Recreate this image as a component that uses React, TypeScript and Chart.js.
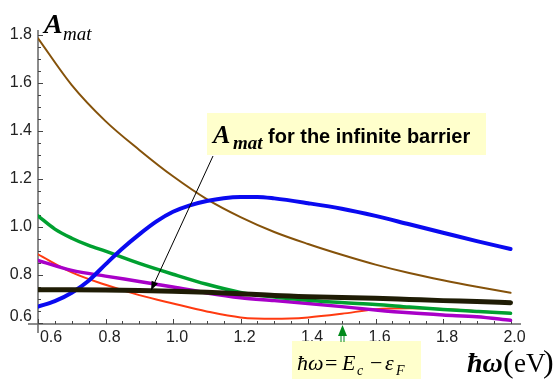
import React, { useEffect, useRef } from 'react';
import { Chart, registerables } from 'chart.js';
Chart.register(...registerables);

// photon energy (eV)
const xMain = [0.6, 0.7, 0.8, 0.9, 1.0, 1.1, 1.2, 1.3, 1.4, 1.5, 1.6, 1.7, 1.8, 1.9, 2.0];
const xBlue = [0.6, 0.65, 0.7, 0.75, 0.8, 0.85, 0.9, 0.95, 1.0, 1.05, 1.1, 1.15, 1.2, 1.25, 1.3, 1.4, 1.5, 1.6, 1.7, 1.8, 1.9, 2.0];
const xGreen = [0.6, 0.65, 0.7, 0.75, 0.8, 0.9, 1.0, 1.1, 1.2, 1.3, 1.4, 1.5, 1.6, 1.7, 1.8, 1.9, 2.0];

const brownSeries = [1.785, 1.59, 1.44, 1.32, 1.21, 1.115, 1.04, 0.978, 0.928, 0.883, 0.842, 0.807, 0.777, 0.75, 0.725];
const blueSeries = [0.667, 0.69, 0.725, 0.775, 0.843, 0.909, 0.968, 1.021, 1.062, 1.089, 1.107, 1.119, 1.124, 1.124, 1.118, 1.098, 1.075, 1.045, 1.01, 0.975, 0.94, 0.907];
const greenSeries = [1.045, 0.99, 0.952, 0.922, 0.898, 0.847, 0.802, 0.76, 0.726, 0.707, 0.694, 0.684, 0.676, 0.665, 0.655, 0.647, 0.639];
const magentaSeries = [0.86, 0.818, 0.794, 0.772, 0.749, 0.724, 0.704, 0.692, 0.68, 0.667, 0.653, 0.641, 0.632, 0.625, 0.61];
const redSeries = [0.885, 0.81, 0.758, 0.715, 0.68, 0.647, 0.622, 0.616, 0.622, 0.637, 0.656, 0.66, 0.657, 0.648, 0.64];
const blackSeries = [0.737, 0.737, 0.736, 0.734, 0.731, 0.727, 0.721, 0.713, 0.708, 0.705, 0.702, 0.697, 0.692, 0.688, 0.683];

const xTickLabels = ['0.6', '0.8', '1.0', '1.2', '1.4', '1.6', '1.8', '2.0'];
const yTickLabels = ['0.6', '0.8', '1.0', '1.2', '1.4', '1.6', '1.8'];

const toPts = (xs: number[], ys: number[]) => xs.map((x, i) => ({ x, y: ys[i] }));

const axesPlugin = {
  id: 'mmaAxes',
  beforeDatasetsDraw(chart: any) {
    const ctx = chart.ctx;
    const xs = chart.scales.x;
    const ys = chart.scales.y;
    const x0 = xs.getPixelForValue(0.6);
    const y0 = ys.getPixelForValue(ys.min);
    ctx.save();
    ctx.strokeStyle = '#666';
    ctx.lineWidth = 1.5;
    ctx.beginPath();
    ctx.moveTo(x0 - 10, y0);
    ctx.lineTo(xs.right, y0);
    ctx.moveTo(x0, ys.top);
    ctx.lineTo(x0, y0 + 9);
    ctx.stroke();
    ctx.lineWidth = 1;
    ctx.strokeStyle = '#444';
    // x ticks
    for (let k = 0; k <= 28; k++) {
      const v = 0.6 + k * 0.05;
      if (v > 2.001) break;
      const px = Math.round(xs.getPixelForValue(v)) + 0.5;
      const len = k % 4 === 0 ? 5 : 3;
      ctx.beginPath();
      ctx.moveTo(px, y0);
      ctx.lineTo(px, y0 - len);
      ctx.stroke();
    }
    // y ticks
    for (let k = 0; k <= 24; k++) {
      const v = 0.6 + k * 0.05;
      if (v > 1.801) break;
      const py = Math.round(ys.getPixelForValue(v)) + 0.5;
      const len = k % 4 === 0 ? 5 : 3;
      ctx.beginPath();
      ctx.moveTo(x0, py);
      ctx.lineTo(x0 + len, py);
      ctx.stroke();
    }
    // tick labels
    ctx.fillStyle = '#222';
    ctx.font = '16px "Liberation Sans", Arial, sans-serif';
    ctx.textAlign = 'center';
    ctx.textBaseline = 'middle';
    xTickLabels.forEach((t, i) => {
      const px = xs.getPixelForValue(parseFloat(t));
      ctx.fillText(t, px + (i === 0 ? 13 : 4), y0 + 14);
    });
    ctx.textAlign = 'right';
    yTickLabels.forEach((t, i) => {
      const py = ys.getPixelForValue(parseFloat(t));
      ctx.fillText(t, 32, py - (i === 0 ? 6 : 0));
    });
    ctx.restore();
  },
  afterDraw(chart: any) {
    const ctx = chart.ctx;
    const xs = chart.scales.x;
    const ys = chart.scales.y;
    ctx.save();
    ctx.fillStyle = '#000';
    ctx.textAlign = 'left';
    ctx.textBaseline = 'alphabetic';
    // y axis title A_mat
    ctx.font = 'bold italic 28px "Liberation Serif", "Times New Roman", serif';
    ctx.fillText('A', 44, 33);
    ctx.font = 'italic 19px "Liberation Serif", "Times New Roman", serif';
    ctx.fillText('mat', 63, 40);

    // yellow callout box
    ctx.fillStyle = '#ffffcc';
    ctx.fillRect(207, 113, 279, 42);
    ctx.fillStyle = '#000';
    ctx.font = 'bold italic 26px "Liberation Serif", "Times New Roman", serif';
    ctx.fillText('A', 213, 143);
    ctx.font = 'bold italic 19px "Liberation Serif", "Times New Roman", serif';
    ctx.fillText('mat', 233, 149);
    ctx.font = 'bold 20px "Liberation Sans", Arial, sans-serif';
    ctx.fillText('for the infinite barrier', 268, 143);

    // arrow to the infinite-barrier curve
    const tx = xs.getPixelForValue(0.935);
    const ty = ys.getPixelForValue(0.735);
    const sx = 213, sy = 156;
    ctx.strokeStyle = '#000';
    ctx.lineWidth = 1;
    ctx.beginPath();
    ctx.moveTo(sx, sy);
    ctx.lineTo(tx, ty);
    ctx.stroke();
    const ang = Math.atan2(ty - sy, tx - sx);
    const hl = 9, hw = 3.5;
    ctx.beginPath();
    ctx.moveTo(tx, ty);
    ctx.lineTo(tx - hl * Math.cos(ang) + hw * Math.sin(ang), ty - hl * Math.sin(ang) - hw * Math.cos(ang));
    ctx.lineTo(tx - hl * Math.cos(ang) - hw * Math.sin(ang), ty - hl * Math.sin(ang) + hw * Math.cos(ang));
    ctx.closePath();
    ctx.fillStyle = '#000';
    ctx.fill();

    // bottom formula box
    ctx.fillStyle = '#ffffcc';
    ctx.fillRect(292, 341, 129, 38);
    ctx.fillStyle = '#000';
    const serif = '"Liberation Serif", "Times New Roman", serif';
    const bl = 370;
    ctx.font = 'italic 22px ' + serif;
    ctx.fillText('\u0127\u03c9', 297, bl);
    ctx.font = '22px ' + serif;
    ctx.fillText('=', 325, bl);
    ctx.font = 'italic 22px ' + serif;
    ctx.fillText('E', 342, bl);
    ctx.font = 'italic 14px ' + serif;
    ctx.fillText('c', 357, bl + 5);
    ctx.font = '22px ' + serif;
    ctx.fillText('\u2212', 370, bl);
    ctx.font = 'italic 22px ' + serif;
    ctx.fillText('\u03b5', 385, bl);
    ctx.font = 'italic 14px ' + serif;
    ctx.fillText('F', 396, bl + 5);

    // green double arrow at hw = Ec - eF
    const gx = Math.round(xs.getPixelForValue(1.5)) + 0.5;
    const gy = ys.getPixelForValue(ys.min) + 1;
    ctx.strokeStyle = '#008a1a';
    ctx.fillStyle = '#008a1a';
    ctx.lineWidth = 1;
    ctx.beginPath();
    ctx.moveTo(gx - 1.5, gy + 9);
    ctx.lineTo(gx - 1.5, 342);
    ctx.moveTo(gx + 1.5, gy + 9);
    ctx.lineTo(gx + 1.5, 342);
    ctx.stroke();
    ctx.beginPath();
    ctx.moveTo(gx, gy);
    ctx.lineTo(gx - 4.5, gy + 11);
    ctx.lineTo(gx + 4.5, gy + 11);
    ctx.closePath();
    ctx.fill();

    // x axis title
    ctx.fillStyle = '#000';
    ctx.font = 'bold italic 28px ' + serif;
    ctx.fillText('\u0127\u03c9', 467, 372);
    ctx.font = '32px ' + serif;
    ctx.fillText('(', 503, 372);
    ctx.font = '27px ' + serif;
    ctx.fillText('eV', 514, 372);
    ctx.font = '32px ' + serif;
    ctx.fillText(')', 543, 372);
    ctx.restore();
  },
};

export default function App() {
  const ref = useRef<HTMLCanvasElement | null>(null);
  useEffect(() => {
    if (!ref.current) return;
    const common = { pointRadius: 0, fill: false, cubicInterpolationMode: 'monotone' as const, borderCapStyle: 'round' as const };
    const chart = new Chart(ref.current, {
      type: 'line',
      data: {
        datasets: [
          { label: 'infinite barrier', data: toPts(xMain, blackSeries), borderColor: '#1f1c05', borderWidth: 5, ...common },
          { label: 'blue', data: toPts(xBlue, blueSeries), borderColor: '#0a0af0', borderWidth: 4, ...common },
          { label: 'green', data: toPts(xGreen, greenSeries), borderColor: '#00a030', borderWidth: 3.5, ...common },
          { label: 'magenta', data: toPts(xMain, magentaSeries), borderColor: '#a800c8', borderWidth: 3.5, ...common },
          { label: 'red', data: toPts(xMain, redSeries), borderColor: '#ff3a10', borderWidth: 2, ...common },
          { label: 'brown', data: toPts(xMain, brownSeries), borderColor: '#85520a', borderWidth: 2, ...common },
        ],
      },
      options: {
        responsive: false,
        animation: false,
        events: [],
        layout: { padding: { left: 38, right: 37, top: 30, bottom: 55 } },
        plugins: { legend: { display: false }, tooltip: { enabled: false } },
        scales: {
          x: { type: 'linear', min: 0.6, max: 2.031, display: false },
          y: { type: 'linear', min: 0.5946, max: 1.8196, display: false },
        },
      },
      plugins: [axesPlugin],
    });
    return () => chart.destroy();
  }, []);
  return (
    <div style={{ position: 'fixed', left: 0, top: 0, width: 558, height: 379, background: '#fff' }}>
      <canvas ref={ref} width={558} height={379} style={{ display: 'block', width: 558, height: 379 }} />
    </div>
  );
}
